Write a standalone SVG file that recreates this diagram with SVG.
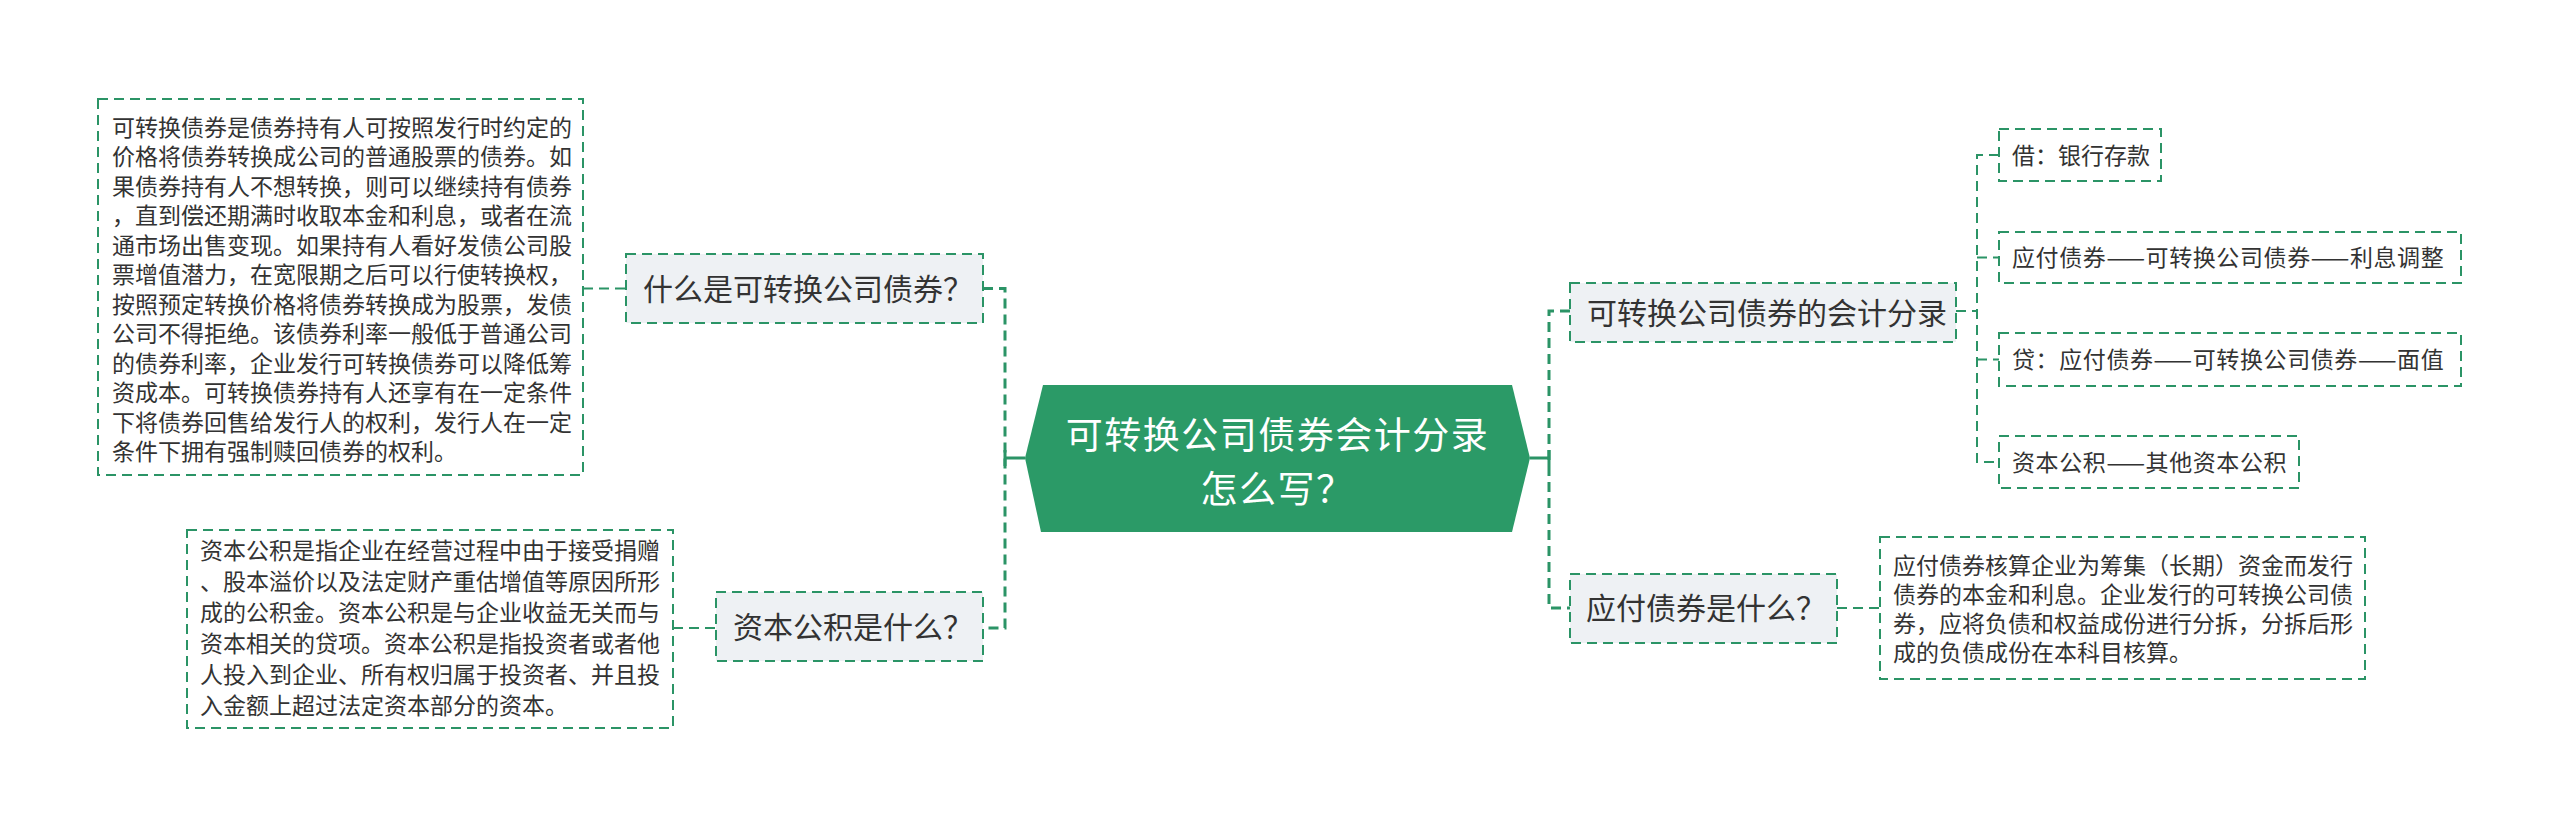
<svg xmlns="http://www.w3.org/2000/svg" width="2560" height="828" viewBox="0 0 2560 828">
<style>
  text { font-family: "Noto Sans CJK SC", "Noto Sans", sans-serif; fill: #333333; }
  .main { fill: #ffffff; font-size: 37px; }
  .topic { font-size: 30px; }
  .leaf { font-size: 23px; }
  .desc { font-size: 23px; }
  .box { fill: #eef1f4; stroke: #2b9466; stroke-width: 2; stroke-dasharray: 10 6; }
  .note { fill: #ffffff; stroke: #2b9466; stroke-width: 2; stroke-dasharray: 10 6; }
  .spine { fill: none; stroke: #2b9466; stroke-width: 3; stroke-dasharray: 10 6; }
  .link { fill: none; stroke: #2b9466; stroke-width: 2; stroke-dasharray: 10 6; }
  .solid { fill: none; stroke: #2b9466; stroke-width: 3; }
</style>
<rect width="2560" height="828" fill="#ffffff"/>

<g id="connectors">
  <path class="spine" d="M983 288.5 H1005 V628 H983"/>
  <path class="solid" d="M1025 458 H1005 M1005 450 V466"/>
  <path class="spine" d="M1570 311 H1549 V608 H1570"/>
  <path class="solid" d="M1530 458 H1549 M1549 450 V466"/>
  <path class="link" d="M1956 311 H1977"/>
  <path class="link" d="M1999 155 H1977 V462 H1999"/>
  <path class="link" d="M1977 257.5 H1999"/>
  <path class="link" d="M1977 359.5 H1999"/>
  <path class="link" d="M583 288.5 H626"/>
  <path class="link" d="M673 628 H716"/>
  <path class="link" d="M1837 608 H1880"/>
</g>

<g id="root">
  <polygon points="1043,385 1512,385 1530,458 1512,532 1041,532 1025,458" fill="#2b9a67"/>
  <text class="main" x="1277.5" y="448.5" text-anchor="middle" letter-spacing="1.5">可转换公司债券会计分录</text>
  <text class="main" x="1277.5" y="502.5" text-anchor="middle" letter-spacing="1.5">怎么写？</text>
</g>

<g id="node-what-is-cb">
  <rect class="box" x="626" y="254" width="357" height="69"/>
  <text class="topic" x="643" y="299.5">什么是可转换公司债券？</text>
</g>

<g id="note-cb">
  <rect class="note" x="98" y="99" width="485" height="376"/>
  <text class="desc" x="112" y="135.5">可转换债券是债券持有人可按照发行时约定的</text>
  <text class="desc" x="112" y="165">价格将债券转换成公司的普通股票的债券。如</text>
  <text class="desc" x="112" y="194.5">果债券持有人不想转换，则可以继续持有债券</text>
  <text class="desc" x="112" y="224">，直到偿还期满时收取本金和利息，或者在流</text>
  <text class="desc" x="112" y="253.5">通市场出售变现。如果持有人看好发债公司股</text>
  <text class="desc" x="112" y="283">票增值潜力，在宽限期之后可以行使转换权，</text>
  <text class="desc" x="112" y="312.5">按照预定转换价格将债券转换成为股票，发债</text>
  <text class="desc" x="112" y="342">公司不得拒绝。该债券利率一般低于普通公司</text>
  <text class="desc" x="112" y="371.5">的债券利率，企业发行可转换债券可以降低筹</text>
  <text class="desc" x="112" y="401">资成本。可转换债券持有人还享有在一定条件</text>
  <text class="desc" x="112" y="430.5">下将债券回售给发行人的权利，发行人在一定</text>
  <text class="desc" x="112" y="460">条件下拥有强制赎回债券的权利。</text>
</g>

<g id="node-capital-reserve">
  <rect class="box" x="716" y="592" width="267" height="69"/>
  <text class="topic" x="733" y="638">资本公积是什么？</text>
</g>

<g id="note-capital-reserve">
  <rect class="note" x="187" y="530" width="486" height="198"/>
  <text class="desc" x="200" y="559">资本公积是指企业在经营过程中由于接受捐赠</text>
  <text class="desc" x="200" y="590">、股本溢价以及法定财产重估增值等原因所形</text>
  <text class="desc" x="200" y="621">成的公积金。资本公积是与企业收益无关而与</text>
  <text class="desc" x="200" y="652">资本相关的贷项。资本公积是指投资者或者他</text>
  <text class="desc" x="200" y="683">人投入到企业、所有权归属于投资者、并且投</text>
  <text class="desc" x="200" y="714">入金额上超过法定资本部分的资本。</text>
</g>

<g id="node-entries">
  <rect class="box" x="1570" y="283" width="386" height="59"/>
  <text class="topic" x="1587" y="323.5">可转换公司债券的会计分录</text>
</g>

<g id="leaf-debit">
  <rect class="note" x="1999" y="129" width="162" height="52"/>
  <text class="leaf" x="2012" y="163.5">借：银行存款</text>
</g>

<g id="leaf-interest">
  <rect class="note" x="1999" y="232" width="462" height="51"/>
  <text class="leaf" x="2012" y="266" letter-spacing="0.6">应付债券——可转换公司债券——利息调整</text>
</g>

<g id="leaf-credit">
  <rect class="note" x="1999" y="333" width="462" height="53"/>
  <text class="leaf" x="2012" y="368" letter-spacing="0.6">贷：应付债券——可转换公司债券——面值</text>
</g>

<g id="leaf-reserve">
  <rect class="note" x="1999" y="436" width="300" height="52"/>
  <text class="leaf" x="2012" y="470.5" letter-spacing="0.6">资本公积——其他资本公积</text>
</g>

<g id="node-bonds-payable">
  <rect class="box" x="1570" y="574" width="267" height="69"/>
  <text class="topic" x="1586" y="619">应付债券是什么？</text>
</g>

<g id="note-bonds-payable">
  <rect class="note" x="1880" y="537" width="485" height="142"/>
  <text class="desc" x="1893" y="573.5">应付债券核算企业为筹集（长期）资金而发行</text>
  <text class="desc" x="1893" y="602.5">债券的本金和利息。企业发行的可转换公司债</text>
  <text class="desc" x="1893" y="631.5">券，应将负债和权益成份进行分拆，分拆后形</text>
  <text class="desc" x="1893" y="660.5">成的负债成份在本科目核算。</text>
</g>
</svg>
